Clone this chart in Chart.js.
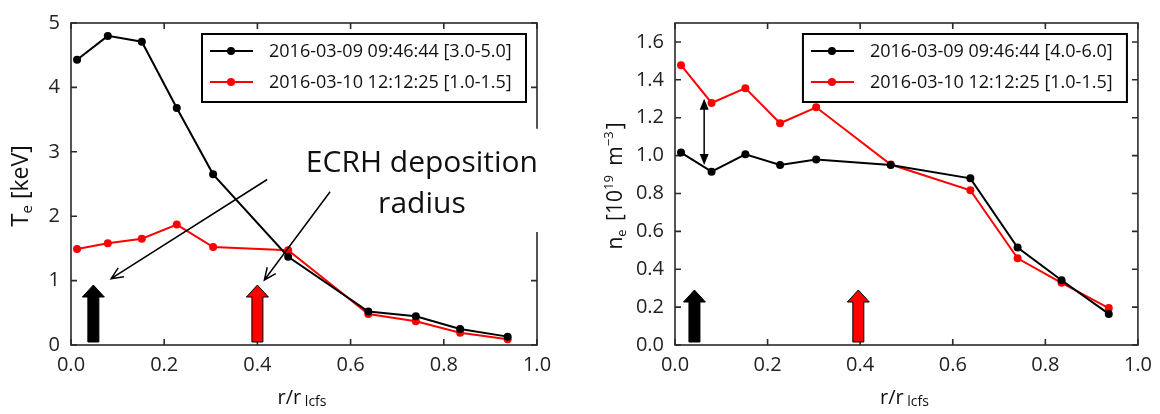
<!DOCTYPE html>
<html><head><meta charset="utf-8">
<script src="https://cdn.jsdelivr.net/npm/chart.js@4.4.1/dist/chart.umd.min.js"></script>
<style>
html,body{margin:0;padding:0;background:#fff;}
#wrap{position:relative;width:1160px;height:414px;overflow:hidden;background:#fff;}
.c{position:absolute;top:0;width:580px;height:414px;}
</style></head><body>
<div id="wrap">
<div class="c" style="left:0"><canvas id="c1" width="580" height="414"></canvas></div>
<div class="c" style="left:580px"><canvas id="c2" width="580" height="414"></canvas></div>
</div>
<script>
// ---- data ----
const radius = [0.013, 0.079, 0.152, 0.227, 0.305, 0.466, 0.638, 0.740, 0.835, 0.937];
const teShot0309 = [4.43, 4.80, 4.71, 3.68, 2.65, 1.37, 0.52, 0.445, 0.25, 0.13];
const teShot0310 = [1.49, 1.58, 1.65, 1.87, 1.52, 1.47, 0.48, 0.37, 0.19, 0.09];
const neShot0309 = [1.016, 0.915, 1.007, 0.95, 0.979, 0.95, 0.88, 0.515, 0.342, 0.164];
const neShot0310 = [1.477, 1.278, 1.356, 1.171, 1.255, 0.953, 0.817, 0.458, 0.328, 0.195];
const teLegend = ['2016-03-09 09:46:44 [3.0-5.0]', '2016-03-10 12:12:25 [1.0-1.5]'];
const neLegend = ['2016-03-09 09:46:44 [4.0-6.0]', '2016-03-10 12:12:25 [1.0-1.5]'];
const xTicks = [0.0, 0.2, 0.4, 0.6, 0.8, 1.0];
const teTicks = [0, 1, 2, 3, 4, 5];
const neTicks = [0.0, 0.2, 0.4, 0.6, 0.8, 1.0, 1.2, 1.4, 1.6];
const teDeposition = [0.048, 0.400];   // black shot, red shot
const neDeposition = [0.042, 0.396];
const annotationLines = ['ECRH deposition', 'radius'];
const annotationAnchor = [0.753, 2.69, 2.05];        // r, baseline line 1, baseline line 2 (keV)
const annotationArrows = [[0.421, 2.57, 0.086, 1.03], [0.556, 2.38, 0.415, 1.01]];
const densityGap = [0.063, 0.95, 1.30];               // r, from, to

const FONT = '"Open Sans", "Liberation Sans", sans-serif';
const BLACK = '#000000', RED = '#ff0000';

function xy(xs, ys) { return xs.map((v, i) => ({x: v, y: ys[i]})); }

function drawRich(ctx, segs, x, y, angle) {
  ctx.save();
  ctx.translate(x, y);
  ctx.rotate(angle || 0);
  ctx.textBaseline = 'alphabetic';
  ctx.textAlign = 'left';
  let w = 0;
  segs.forEach(s => { ctx.font = s.f + 'px ' + FONT; s.w = ctx.measureText(s.t).width; w += s.w + (s.g || 0); });
  let cx = -w / 2;
  segs.forEach(s => { ctx.font = s.f + 'px ' + FONT; ctx.fillStyle = '#111'; ctx.fillText(s.t, cx, s.dy || 0); cx += s.w + (s.g || 0); });
  ctx.restore();
}

function blockArrow(ctx, x, yb, yt, fill) {
  const sw = 5.5, hw = 11, hh = 12;
  ctx.beginPath();
  ctx.moveTo(x - sw, yb); ctx.lineTo(x - sw, yt + hh); ctx.lineTo(x - hw, yt + hh);
  ctx.lineTo(x, yt); ctx.lineTo(x + hw, yt + hh); ctx.lineTo(x + sw, yt + hh); ctx.lineTo(x + sw, yb);
  ctx.closePath();
  ctx.fillStyle = fill; ctx.fill();
  ctx.strokeStyle = '#000'; ctx.lineWidth = 1; ctx.stroke();
}

function thinArrow(ctx, x1, y1, x2, y2) {
  const a = Math.atan2(y2 - y1, x2 - x1), L = 13, sp = 0.42;
  ctx.beginPath();
  ctx.moveTo(x1, y1); ctx.lineTo(x2, y2);
  ctx.moveTo(x2 - L * Math.cos(a - sp), y2 - L * Math.sin(a - sp)); ctx.lineTo(x2, y2);
  ctx.lineTo(x2 - L * Math.cos(a + sp), y2 - L * Math.sin(a + sp));
  ctx.strokeStyle = '#000'; ctx.lineWidth = 1.5; ctx.stroke();
}

function triHead(ctx, x, y, dir) {
  ctx.beginPath();
  ctx.moveTo(x, y); ctx.lineTo(x - 4.5, y - dir * 11); ctx.lineTo(x + 4.5, y - dir * 11); ctx.closePath();
  ctx.fillStyle = '#000'; ctx.fill();
}

function decoPlugin(cfg) {
  return {
    id: 'deco',
    beforeDatasetsDraw(chart) {
      const {ctx, chartArea: a, scales: {x, y}} = chart;
      ctx.save();
      ctx.strokeStyle = '#2a2a2a'; ctx.lineWidth = 1.6;
      ctx.strokeRect(a.left, a.top, a.right - a.left, a.bottom - a.top);
      ctx.beginPath();
      x.ticks.forEach(t => { const p = x.getPixelForValue(t.value);
        ctx.moveTo(p, a.bottom); ctx.lineTo(p, a.bottom - 6); ctx.moveTo(p, a.top); ctx.lineTo(p, a.top + 6); });
      y.ticks.forEach(t => { const p = y.getPixelForValue(t.value);
        ctx.moveTo(a.left, p); ctx.lineTo(a.left + 6, p); ctx.moveTo(a.right, p); ctx.lineTo(a.right - 6, p); });
      ctx.stroke();
      if (cfg.annotation) {
        ctx.font = '30px ' + FONT;
        const w = ctx.measureText(annotationLines[0]).width;
        const cx = x.getPixelForValue(annotationAnchor[0]);
        const b1 = y.getPixelForValue(annotationAnchor[1]);
        const b2 = y.getPixelForValue(annotationAnchor[2]);
        ctx.fillStyle = '#fff';
        ctx.fillRect(cx - w / 2 - 12, b1 - 43, w + 30, b2 - b1 + 62);
      }
      ctx.restore();
    },
    afterDatasetsDraw(chart) {
      const {ctx, chartArea: a, scales: {x, y}} = chart;
      ctx.save();
      cfg.deposition.forEach((r, i) => {
        blockArrow(ctx, x.getPixelForValue(r), a.bottom - 3, a.bottom - cfg.arrowLen, i === 0 ? BLACK : RED);
      });
      if (cfg.annotation) {
        ctx.font = '30px ' + FONT; ctx.fillStyle = '#111'; ctx.textAlign = 'center'; ctx.textBaseline = 'alphabetic';
        const cx = x.getPixelForValue(annotationAnchor[0]);
        ctx.fillText(annotationLines[0], cx, y.getPixelForValue(annotationAnchor[1]));
        ctx.fillText(annotationLines[1], cx, y.getPixelForValue(annotationAnchor[2]));
        annotationArrows.forEach(p => thinArrow(ctx, x.getPixelForValue(p[0]), y.getPixelForValue(p[1]),
          x.getPixelForValue(p[2]), y.getPixelForValue(p[3])));
      }
      if (cfg.gap) {
        const gx = x.getPixelForValue(densityGap[0]);
        const y1 = y.getPixelForValue(densityGap[1]), y2 = y.getPixelForValue(densityGap[2]);
        ctx.beginPath(); ctx.moveTo(gx, y1 - 6); ctx.lineTo(gx, y2 + 6);
        ctx.strokeStyle = '#000'; ctx.lineWidth = 1.5; ctx.stroke();
        triHead(ctx, gx, y2, -1); triHead(ctx, gx, y1, 1);
      }
      const bx = a.right - 335, by = a.top + 11, bw = 324, bh = 68;
      ctx.fillStyle = '#fff'; ctx.fillRect(bx, by, bw, bh);
      ctx.strokeStyle = '#000'; ctx.lineWidth = 2; ctx.strokeRect(bx, by, bw, bh);
      chart.data.datasets.forEach((ds, i) => {
        const ry = by + 17 + i * 31;
        ctx.beginPath(); ctx.moveTo(bx + 8, ry); ctx.lineTo(bx + 51, ry);
        ctx.strokeStyle = ds.borderColor; ctx.lineWidth = 2; ctx.stroke();
        ctx.beginPath(); ctx.arc(bx + 29, ry, 4, 0, Math.PI * 2); ctx.fillStyle = ds.borderColor; ctx.fill();
        ctx.font = '18px ' + FONT; ctx.fillStyle = '#111'; ctx.textAlign = 'left'; ctx.textBaseline = 'middle';
        ctx.fillText(ds.label, bx + 67, ry + 1);
      });
      ctx.restore();
    },
    afterDraw(chart) {
      const {ctx, chartArea: a} = chart;
      const mid = (a.left + a.right) / 2;
      drawRich(ctx, [{t: 'r/r', f: 20}, {t: ' lcfs', f: 14, dy: 2}], mid - 2, 404, 0);
      drawRich(ctx, cfg.yTitle, a.left - cfg.yTitleOff, (a.top + a.bottom) / 2 + cfg.yTitleShift, -Math.PI / 2);
    }
  };
}

function makeChart(id, s1, s2, labels, yTicks, yMax, cfg) {
  const fixed = (vals) => function (scale) { scale.ticks = vals.map(v => ({value: v})); };
  return new Chart(document.getElementById(id), {
    type: 'scatter',
    data: {datasets: [
      {label: labels[0], data: xy(radius, s1), borderColor: BLACK, backgroundColor: BLACK, pointBackgroundColor: BLACK,
       showLine: true, borderWidth: 2, pointRadius: 4, pointBorderWidth: 0, tension: 0},
      {label: labels[1], data: xy(radius, s2), borderColor: RED, backgroundColor: RED, pointBackgroundColor: RED,
       showLine: true, borderWidth: 2, pointRadius: 4, pointBorderWidth: 0, tension: 0}
    ]},
    options: {
      responsive: false, animation: false, devicePixelRatio: 1,
      layout: {padding: cfg.padding},
      plugins: {legend: {display: false}, tooltip: {enabled: false}},
      scales: {
        x: {type: 'linear', min: 0, max: 1, afterBuildTicks: fixed(xTicks),
            afterFit: s => { s.height = cfg.xH; },
            grid: {display: false, drawTicks: false}, border: {display: false},
            ticks: {padding: 8, color: '#222', font: {family: FONT, size: 20}, callback: v => Number(v).toFixed(1)}},
        y: {type: 'linear', min: 0, max: yMax, afterBuildTicks: fixed(yTicks),
            afterFit: s => { s.width = cfg.yW; },
            grid: {display: false, drawTicks: false}, border: {display: false},
            ticks: {padding: 11, color: '#222', font: {family: FONT, size: 20}, callback: cfg.yFmt}}
      }
    },
    plugins: [decoPlugin(cfg)]
  });
}

makeChart('c1', teShot0309, teShot0310, teLegend, teTicks, 5, {
  padding: {left: 0, right: 43, top: 16, bottom: 0}, xH: 69, yW: 71,
  yFmt: v => String(Math.round(v)), deposition: teDeposition, arrowLen: 60, annotation: true,
  yTitle: [{t: 'T', f: 24}, {t: 'e', f: 15, dy: 4}, {t: ' [keV]', f: 23}], yTitleOff: 43, yTitleShift: 2
});
makeChart('c2', neShot0309, neShot0310, neLegend, neTicks, 1.7, {
  padding: {left: 0, right: 22, top: 17, bottom: 0}, xH: 69, yW: 95,
  yFmt: v => Number(v).toFixed(1), deposition: neDeposition, arrowLen: 55, gap: true,
  yTitle: [{t: 'n', f: 21}, {t: 'e', f: 13, dy: 4, g: 3}, {t: ' [10', f: 21}, {t: '19', f: 13, dy: -9, g: 4},
           {t: ' m', f: 21}, {t: '\u22123', f: 13, dy: -9, g: 2}, {t: ']', f: 21}],
  yTitleOff: 53, yTitleShift: 2
});
</script>
</body></html>
